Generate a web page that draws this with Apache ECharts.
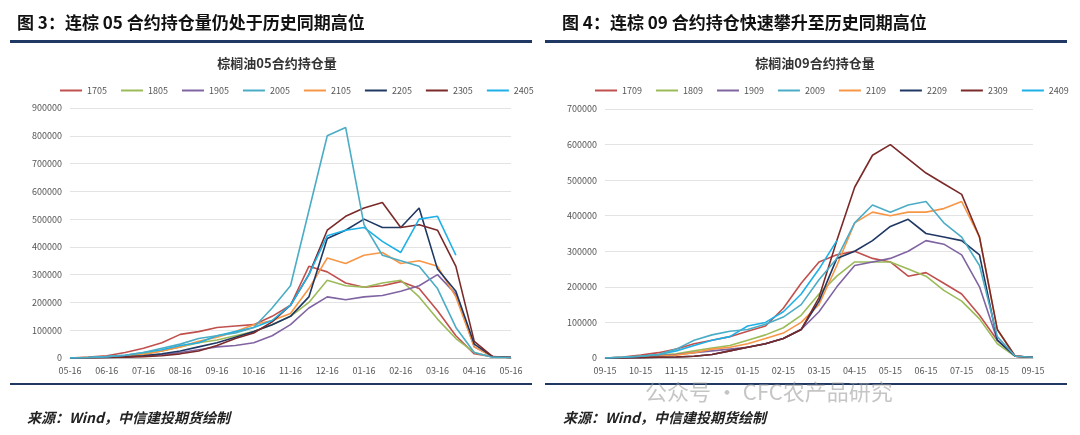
<!DOCTYPE html>
<html><head><meta charset="utf-8">
<script src="https://cdn.jsdelivr.net/npm/echarts@6/dist/echarts.min.js"></script>
<style>html,body{margin:0;padding:0;background:#fff}#c{width:1080px;height:435px}</style>
</head><body><div id="c"></div>
<script>
// Left chart: half-month points from 05-16 to next 05-16 (values in thousand lots)
const catsL = ['05-16','06-01','06-16','07-01','07-16','08-01','08-16','09-01','09-16','10-01','10-16','11-01','11-16','12-01','12-16','01-01','01-16','02-01','02-16','03-01','03-16','04-01','04-16','05-01','05-16'];
const namesL = ['1705','1805','1905','2005','2105','2205','2305','2405'];
const s1705 = [0,3,8,20,35,55,85,95,110,115,120,150,190,330,310,270,255,260,275,250,170,80,15,5,3];
const s1805 = [0,2,4,8,15,25,40,55,65,80,95,120,150,200,280,260,255,270,280,220,140,70,20,3,2];
const s1905 = [0,1,3,5,8,12,20,30,40,45,55,80,120,180,220,210,220,225,240,260,300,230,40,5,2];
const s2005 = [0,2,5,10,20,35,50,70,80,90,110,180,260,530,800,830,480,370,350,330,250,110,20,3,2];
const s2105 = [0,1,3,6,12,25,40,60,75,95,120,135,160,250,360,340,370,380,340,350,330,220,40,5,2];
const s2205 = [0,1,2,4,8,15,25,40,55,75,95,120,150,220,430,460,500,470,470,540,320,240,50,5,2];
const s2305 = [0,1,2,3,5,8,15,25,45,70,90,130,190,300,460,510,540,560,470,480,460,330,60,5,2];
const s2405 = [0,2,5,10,20,30,45,55,80,95,110,135,190,300,440,460,470,420,380,500,510,370,null,null,null];
// Right chart: half-month points from 09-15 to next 09-15
const catsR = ['09-15','10-01','10-15','11-01','11-15','12-01','12-15','01-01','01-15','02-01','02-15','03-01','03-15','04-01','04-15','05-01','05-15','06-01','06-15','07-01','07-15','08-01','08-15','09-01','09-15'];
const namesR = ['1709','1809','1909','2009','2109','2209','2309','2409'];
const s1709 = [0,3,8,15,25,40,50,60,75,90,140,210,270,290,300,280,270,230,240,210,180,120,50,5,2];
const s1809 = [0,2,5,8,12,20,28,35,50,65,85,120,180,230,270,270,270,250,230,190,160,110,40,5,2];
const s1909 = [0,1,3,6,10,15,20,25,30,40,55,80,130,200,260,270,280,300,330,320,290,200,50,5,2];
const s2009 = [0,2,5,10,25,50,65,75,80,95,115,150,220,280,380,430,410,430,440,380,340,260,60,5,2];
const s2109 = [0,1,3,5,8,15,25,30,40,55,70,100,150,260,380,410,400,410,410,420,440,340,80,5,2];
const s2209 = [0,0,1,2,3,5,10,20,30,40,55,80,160,280,300,330,370,390,350,340,330,290,50,5,2];
const s2309 = [0,0,1,2,3,5,10,20,30,40,55,80,170,330,480,570,600,560,520,490,460,340,80,5,2];
const s2409 = [0,2,5,10,20,35,50,60,90,100,130,180,250,330,null,null,null,null,null,null,null,null,null,null,null];
const yTicksL = {min:0,max:900000,interval:100000};
const yTicksR = {min:0,max:700000,interval:100000};

const colors = ['#c0504d','#9bbb59','#8064a2','#4bacc6','#f79646','#1f3864','#7b2a2a','#1eb0e6'];
const dataL = [s1705,s1805,s1905,s2005,s2105,s2205,s2305,s2405];
const dataR = [s1709,s1809,s1909,s2009,s2109,s2209,s2309,s2409];
const ff = '"Noto Sans CJK SC", sans-serif';
const chart = echarts.init(document.getElementById('c'));
function mkSeries(names, data, idx){
  return names.map((n,i)=>({name:n,type:'line',xAxisIndex:idx,yAxisIndex:idx,data:data[i].map(v=>v==null?null:v*1000),
    symbol:'none',lineStyle:{width:1.6,color:colors[i]},itemStyle:{color:colors[i]},z:i===3?3:2}));
}
function xAx(cats,idx){return {type:'category',gridIndex:idx,data:cats,boundaryGap:false,
  axisLine:{lineStyle:{color:'#bbb'}},axisTick:{show:false},
  axisLabel:{interval:1,fontSize:9,color:'#555',fontFamily:ff,margin:8}};}
function yAx(t,idx){return {type:'value',gridIndex:idx,min:t.min,max:t.max,interval:t.interval,
  axisLabel:{fontSize:9,color:'#555',fontFamily:ff,formatter:v=>String(v)},splitLine:{lineStyle:{color:'#e3e3e3'}},axisLine:{show:false}};}
const legBase={top:81,itemWidth:22,itemHeight:2,itemGap:14,icon:'rect',textStyle:{fontSize:9,color:'#555',fontFamily:ff}};
chart.setOption({
  animation:false,
  title:[
    {text:'图 3：连棕 05 合约持仓量仍处于历史同期高位',left:12,top:9,textStyle:{fontSize:17,fontWeight:'bold',color:'#111',fontFamily:ff}},
    {text:'图 4：连棕 09 合约持仓快速攀升至历史同期高位',left:557,top:9,textStyle:{fontSize:17,fontWeight:'bold',color:'#111',fontFamily:ff}},
    {text:'棕榈油05合约持仓量',left:272,top:52,textAlign:'center',textStyle:{fontSize:13,fontWeight:'bold',color:'#333',fontFamily:ff}},
    {text:'棕榈油09合约持仓量',left:810,top:52,textAlign:'center',textStyle:{fontSize:13,fontWeight:'bold',color:'#333',fontFamily:ff}},
    {text:'来源：Wind，中信建投期货绘制',left:22,top:406,textStyle:{fontSize:14,fontStyle:'italic',fontWeight:'bold',color:'#222',fontFamily:ff}},
    {text:'来源：Wind，中信建投期货绘制',left:558,top:406,textStyle:{fontSize:14,fontStyle:'italic',fontWeight:'bold',color:'#222',fontFamily:ff}},
    {text:'公众号 · CFC农产品研究',left:640,top:376,textStyle:{fontSize:22,fontWeight:'normal',color:'rgba(150,150,150,0.55)',fontFamily:ff}}
  ],
  graphic:[
    {type:'rect',shape:{x:10,y:40,width:522,height:3},style:{fill:'#1f3864'}},
    {type:'rect',shape:{x:545,y:40,width:522,height:3},style:{fill:'#1f3864'}},
    {type:'rect',shape:{x:10,y:383,width:522,height:2},style:{fill:'#1f3864'}},
    {type:'rect',shape:{x:545,y:383,width:522,height:2},style:{fill:'#1f3864'}}
  ],
  legend:[
    Object.assign({},legBase,{left:55,data:namesL}),
    Object.assign({},legBase,{left:590,data:namesR})
  ],
  grid:[
    {left:70,top:108,width:441,height:250},
    {left:605,top:109,width:428,height:249}
  ],
  xAxis:[xAx(catsL,0),xAx(catsR,1)],
  yAxis:[yAx(yTicksL,0),yAx(yTicksR,1)],
  series:[...mkSeries(namesL,dataL,0),...mkSeries(namesR,dataR,1)]
});
</script></body></html>
